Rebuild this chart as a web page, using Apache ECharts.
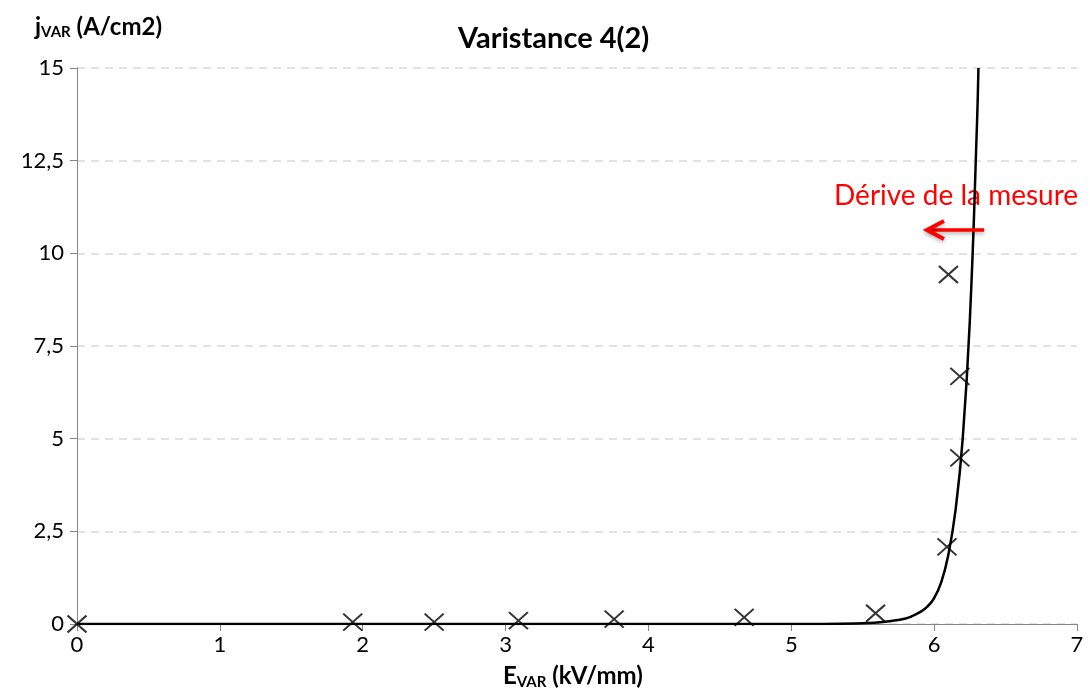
<!DOCTYPE html>
<html>
<head>
<meta charset="utf-8">
<script src="https://cdn.jsdelivr.net/npm/echarts@6/dist/echarts.min.js"></script>
<style>
  html, body { margin: 0; padding: 0; background: #fff; }
  #chart { width: 1090px; height: 697px; }
</style>
</head>
<body>
<div id="chart"></div>
<script>
// mesures (points x)
var eMesure = [0, 1.93, 2.50, 3.09, 3.76, 4.67, 5.59, 6.09, 6.18, 6.18, 6.10];
var jMesure = [0, 0.05, 0.05, 0.09, 0.13, 0.18, 0.29, 2.08, 4.48, 6.68, 9.43];

// courbe de tendance
var eCourbe = [0, 1, 2, 3, 4, 5, 5.5, 5.6, 5.7, 5.8, 5.85, 5.9, 5.95, 6.0, 6.05, 6.1, 6.15, 6.2, 6.25, 6.3, 6.31];
var jCourbe = [0, 0, 0, 0, 0, 0.002, 0.02, 0.04, 0.08, 0.15, 0.22, 0.32, 0.46, 0.7, 1.13, 1.88, 3.08, 5.0, 8.2, 13.5, 15];

// flèche rouge (annotation)
var flecheDe = [6.35, 10.63];
var flecheA = [5.95, 10.63];

var myChart = echarts.init(document.getElementById('chart'));

var ptsMesure = eMesure.map(function (e, i) { return [e, jMesure[i]]; });
var ptsCourbe = eCourbe.map(function (e, i) { return [e, jCourbe[i]]; });

var font = 'Lato, "Open Sans", sans-serif';

var option = {
    backgroundColor: '#fff',
    animation: false,
    title: [
        {
            text: 'Varistance 4(2)',
            left: 453,
            top: 19,
            textStyle: { color: '#000', fontSize: 29, fontWeight: 'bold', fontFamily: font }
        },
        {
            text: '{a|j}{s|VAR}{a| (A/cm2)}',
            left: 30,
            top: 10,
            textStyle: {
                rich: {
                    a: { color: '#000', fontSize: 24, fontWeight: 'bold', fontFamily: font },
                    s: { color: '#000', fontSize: 15, fontWeight: 'bold', fontFamily: font, padding: [10, 0, 0, 0] }
                }
            }
        },
        {
            text: '{a|E}{s|VAR}{a| (kV/mm)}',
            left: 498,
            top: 658,
            textStyle: {
                rich: {
                    a: { color: '#000', fontSize: 24, fontWeight: 'bold', fontFamily: font },
                    s: { color: '#000', fontSize: 15, fontWeight: 'bold', fontFamily: font, padding: [12, 0, 0, 0] }
                }
            }
        }
    ],
    grid: { left: 77, right: 13, top: 68, bottom: 73 },
    xAxis: {
        type: 'value',
        min: 0, max: 7, interval: 1,
        axisLine: { lineStyle: { color: '#868686', width: 1 } },
        axisTick: { show: true, length: 7, lineStyle: { color: '#868686' } },
        axisLabel: { color: '#000', fontSize: 22, fontFamily: font, margin: 10 },
        splitLine: { show: false }
    },
    yAxis: {
        type: 'value',
        min: 0, max: 15, interval: 2.5,
        axisLine: { show: true, lineStyle: { color: '#868686', width: 1 } },
        axisTick: { show: true, length: 7, lineStyle: { color: '#868686' } },
        axisLabel: {
            color: '#000', fontSize: 22, fontFamily: font, margin: 13,
            formatter: function (v) { return String(v).replace('.', ','); }
        },
        splitLine: { show: true, lineStyle: { color: '#d9d9d9', type: [8, 6], width: 1.5 } }
    },
    series: [
        {
            type: 'line',
            data: ptsCourbe,
            smooth: 0.5,
            showSymbol: false,
            clip: true,
            lineStyle: { color: '#000', width: 2.5 },
            z: 3,
            markLine: {
                silent: true,
                symbol: ['none', 'none'],
                label: { show: false },
                lineStyle: { color: '#ff0000', width: 3.5, type: 'solid', shadowColor: 'rgba(0,0,0,0.35)', shadowBlur: 4, shadowOffsetY: 2 },
                data: [[{ coord: flecheDe }, { coord: [flecheA[0] + 0.01, flecheA[1]] }]]
            }
        },
        {
            type: 'scatter',
            data: ptsMesure,
            symbol: 'path://M0,0L10,10M10,0L0,10',
            symbolSize: [19, 17],
            itemStyle: { color: 'none', borderColor: '#000', borderWidth: 2 },
            z: 4
        }
    ]
};

myChart.setOption(option);

// texte et pointe de la flèche
var tip = myChart.convertToPixel({ gridIndex: 0 }, flecheA);
myChart.setOption({
    graphic: [
        {
            type: 'text',
            left: 834,
            top: 182,
            z: 1,
            style: { text: 'Dérive de la mesure', fill: '#ff0000', fontSize: 28, fontFamily: font }
        },
        {
            type: 'polyline',
            z: 10,
            shape: { points: [[tip[0] + 17, tip[1] - 9], [tip[0], tip[1]], [tip[0] + 17, tip[1] + 9]] },
            style: { stroke: '#ff0000', lineWidth: 4, fill: null, lineJoin: 'miter',
                shadowColor: 'rgba(0,0,0,0.3)', shadowBlur: 4, shadowOffsetY: 2 }
        }
    ]
});

window.onresize = function () {
    myChart.resize();
};
</script>
</body>
</html>
